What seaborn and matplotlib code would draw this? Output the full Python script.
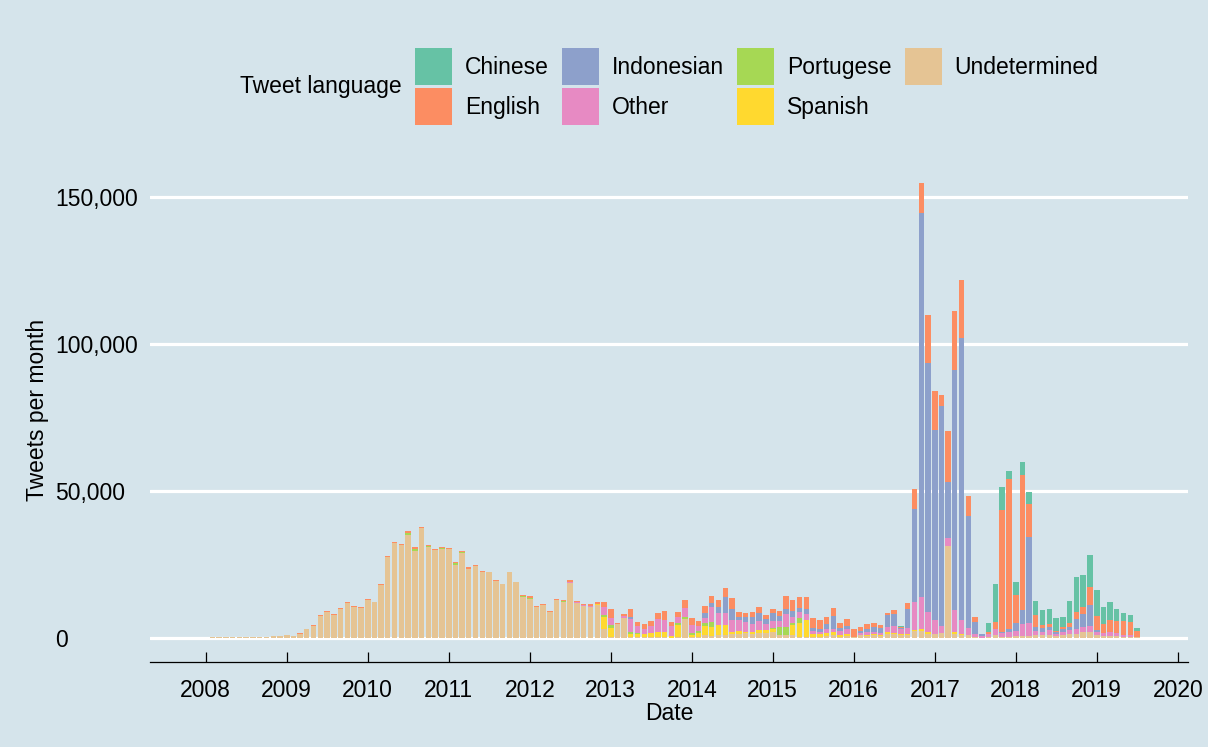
import numpy as np
import pandas as pd
import matplotlib
matplotlib.use("Agg")
import matplotlib.pyplot as plt
from matplotlib.patches import Patch
from matplotlib.ticker import FuncFormatter, FixedLocator
import seaborn as sns

# ---------------- data (tweets per month, Feb 2008 .. Jul 2019) ----------------
languages = ["Chinese", "English", "Indonesian", "Other", "Portugese", "Spanish", "Undetermined"]
colors = ["#66c2a5", "#fc8d62", "#8da0cb", "#e78ac3", "#a6d854", "#ffd92f", "#e5c494"]
months = pd.date_range("2008-02-01", periods=138, freq="MS")
year_ticks = list(range(2008, 2021))
y_ticks = [0, 50000, 100000, 150000]

undetermined = [
    300, 300, 300, 300, 350, 400, 400, 600, 600, 800, 900,
    1200, 900, 1600, 3050, 4300, 7600, 9000, 8000, 9800, 12000, 10800, 10200,
    12900, 12200, 18100, 27700, 32400, 31700, 35100, 29800, 37500, 31000, 30100, 30500,
    30300, 25000, 29100, 23600, 24500, 22700, 22400, 19500, 18300, 22400, 19000, 14100,
    13500, 10700, 11300, 9000, 13100, 12400, 18700, 12000, 10900, 10600, 11400, 3200,
    600, 4700, 6800, 600, 600, 600, 500, 600, 500, 200, 500, 6500,
    300, 300, 1100, 800, 1100, 1100, 1300, 1600, 1700, 1600, 1700, 1800,
    2000, 1100, 1200, 1000, 600, 400, 600, 500, 800, 1200, 600, 900,
    600, 1100, 900, 1000, 900, 1600, 1300, 1000, 1200, 2500, 2500, 1500,
    1300, 1700, 31500, 1500, 1100, 1100, 500, 200, 400, 1200, 600, 600,
    800, 800, 800, 1100, 1200, 1200, 700, 1200, 1400, 1500, 2200, 2000,
    1100, 800, 900, 800, 500, 500, 300,
]
english = [
    0, 0, 0, 0, 0, 0, 0, 0, 0, 0, 0,
    0, 0, 100, 150, 200, 400, 400, 300, 400, 400, 300, 300,
    400, 300, 400, 400, 400, 400, 600, 600, 500, 400, 300, 300,
    300, 600, 300, 500, 300, 300, 300, 300, 300, 300, 300, 300,
    600, 300, 400, 300, 300, 400, 500, 500, 500, 400, 500, 1900,
    3200, 600, 600, 2800, 1500, 1800, 1800, 2000, 3100, 1500, 1700, 2800,
    2300, 1700, 2300, 2500, 2300, 3100, 4000, 1900, 1100, 1500, 2000, 1400,
    1400, 1700, 4500, 3600, 4000, 4100, 3500, 3200, 2500, 2600, 1700, 2300,
    2500, 1400, 1700, 1400, 1100, 800, 1300, 300, 1900, 7000, 10200, 16200,
    13200, 3700, 17200, 19800, 19800, 6800, 1700, 0, 500, 2300, 41400, 51000,
    9600, 45900, 11200, 4200, 1100, 1100, 500, 700, 1400, 2200, 2300, 6000,
    4900, 3200, 4300, 4300, 4900, 4500, 2200,
]
indonesian = [
    0, 0, 0, 0, 0, 0, 0, 0, 0, 0, 0,
    0, 0, 0, 0, 0, 0, 0, 0, 0, 0, 0, 0,
    0, 0, 0, 0, 0, 0, 0, 0, 0, 0, 0, 0,
    0, 0, 0, 0, 0, 0, 0, 0, 0, 0, 0, 0,
    0, 0, 0, 0, 0, 0, 0, 0, 0, 0, 0, 0,
    0, 0, 0, 600, 0, 0, 0, 0, 0, 0, 0, 0,
    0, 0, 1700, 1400, 2000, 5400, 3600, 1100, 2000, 2300, 2500, 1400,
    2700, 1600, 1600, 2300, 1100, 1400, 800, 800, 1800, 4500, 800, 1100,
    0, 700, 1100, 1500, 1500, 4000, 4200, 400, 6500, 31500, 130700, 84700,
    64900, 74800, 19300, 81900, 96000, 38300, 4100, 600, 0, 0, 600, 1200,
    2500, 4800, 29300, 1100, 1100, 1100, 500, 800, 900, 3400, 4300, 7100,
    500, 0, 0, 0, 0, 0, 0,
]
other = [
    0, 0, 0, 0, 0, 0, 0, 0, 0, 0, 0,
    0, 0, 0, 0, 0, 0, 0, 0, 0, 0, 0, 0,
    0, 0, 0, 0, 0, 0, 0, 0, 0, 0, 0, 0,
    0, 0, 0, 0, 0, 0, 0, 0, 0, 0, 0, 0,
    0, 0, 0, 0, 0, 0, 600, 300, 300, 300, 200, 2600,
    2300, 0, 800, 4500, 2500, 1700, 2300, 4200, 4000, 3400, 2000, 2800,
    2800, 1600, 1700, 4900, 4200, 4000, 4000, 3700, 3100, 2800, 3200, 2300,
    2600, 2300, 4300, 1800, 2300, 2300, 1100, 800, 1400, 800, 1500, 1600,
    0, 800, 800, 900, 800, 1700, 2200, 1500, 2000, 9600, 10800, 6800,
    4500, 2500, 2500, 7400, 4900, 2300, 800, 500, 1200, 2000, 1100, 1400,
    1800, 4100, 4300, 1500, 1100, 1500, 900, 1100, 1400, 1700, 1700, 1900,
    1200, 900, 1100, 900, 600, 600, 0,
]
portugese = [
    0, 0, 0, 0, 0, 0, 0, 0, 0, 0, 0,
    0, 0, 0, 0, 0, 0, 0, 0, 0, 0, 0, 0,
    0, 0, 0, 0, 0, 0, 800, 600, 0, 300, 0, 200,
    0, 500, 200, 0, 0, 0, 0, 0, 0, 0, 0, 300,
    300, 0, 0, 0, 0, 200, 0, 0, 0, 200, 0, 600,
    1100, 0, 0, 600, 300, 0, 0, 0, 0, 0, 600, 900,
    600, 900, 1100, 1700, 0, 0, 0, 0, 0, 0, 0, 0,
    300, 2600, 2800, 900, 1700, 0, 0, 0, 0, 0, 0, 0,
    0, 0, 0, 0, 0, 0, 0, 0, 0, 0, 0, 0,
    0, 0, 0, 0, 0, 0, 0, 0, 0, 0, 0, 0,
    0, 0, 0, 0, 0, 0, 0, 0, 0, 0, 0, 0,
    0, 0, 0, 0, 0, 0, 0,
]
spanish = [
    0, 0, 0, 0, 0, 0, 0, 0, 0, 0, 0,
    0, 0, 0, 0, 0, 0, 0, 0, 0, 0, 0, 0,
    0, 0, 0, 0, 0, 0, 0, 0, 0, 0, 0, 0,
    0, 0, 0, 0, 0, 0, 0, 0, 0, 0, 0, 0,
    0, 0, 0, 0, 0, 0, 0, 0, 0, 0, 200, 4200,
    2800, 0, 0, 800, 800, 800, 1400, 1700, 1700, 600, 4000, 0,
    800, 1400, 3100, 3100, 3400, 3400, 900, 800, 600, 600, 1100, 900,
    1100, 0, 0, 3400, 4500, 5700, 900, 900, 900, 1100, 500, 600,
    0, 0, 300, 300, 200, 600, 600, 500, 300, 300, 600, 800,
    300, 0, 0, 600, 200, 0, 0, 0, 0, 0, 0, 0,
    0, 0, 0, 0, 0, 0, 0, 0, 0, 0, 0, 300,
    0, 0, 0, 0, 0, 0, 0,
]
chinese = [
    0, 0, 0, 0, 0, 0, 0, 0, 0, 0, 0,
    0, 0, 0, 0, 0, 0, 0, 0, 0, 0, 0, 0,
    0, 0, 0, 0, 0, 0, 0, 0, 0, 0, 0, 0,
    0, 0, 0, 0, 0, 0, 0, 0, 0, 0, 0, 0,
    0, 0, 0, 0, 0, 0, 0, 0, 0, 0, 0, 0,
    0, 0, 0, 0, 0, 0, 0, 0, 0, 0, 0, 0,
    0, 0, 0, 0, 0, 0, 0, 0, 0, 0, 0, 0,
    0, 0, 0, 0, 0, 0, 0, 0, 0, 0, 0, 0,
    0, 0, 0, 0, 0, 0, 0, 500, 0, 0, 0, 0,
    0, 0, 0, 300, 0, 0, 0, 0, 3000, 13000, 7900, 2800,
    4300, 4500, 4000, 4800, 5100, 5100, 4400, 3600, 7600, 12000, 11000, 11000,
    8700, 5900, 6200, 4000, 2500, 2200, 900,
]

series = {
    "Chinese": chinese, "English": english, "Indonesian": indonesian, "Other": other,
    "Portugese": portugese, "Spanish": spanish, "Undetermined": undetermined,
}

# decimal-year position of each month
pos = np.asarray(months.year + (months.dayofyear - 1) / np.where(months.is_leap_year, 366, 365), dtype=float)
frames = [pd.DataFrame({"year": pos, "tweets": vals, "language": lang}) for lang, vals in series.items()]
df = pd.concat(frames, ignore_index=True)

# month bins centred on each month position
half = 1 / 24
edges = [float(p - half) for p in pos] + [float(pos[-1] + half)]

# ---------------- style ----------------
bg = "#d5e4eb"
FS = 16.5
sns.set_theme(style="white")
plt.rcParams["font.family"] = ["Liberation Sans", "DejaVu Sans"]
plt.rcParams["text.color"] = "black"
plt.rcParams["axes.labelcolor"] = "black"
plt.rcParams["xtick.color"] = "black"
plt.rcParams["ytick.color"] = "black"

W, H = 1208, 747
fig = plt.figure(figsize=(W / 100, H / 100), dpi=100, facecolor=bg)
ax = fig.add_axes([150 / W, 1 - 662 / H, 1038 / W, 504 / H])
ax.set_facecolor(bg)

palette = dict(zip(languages, colors))
# seaborn puts the first hue level on top of the stack
sns.histplot(
    data=df, x="year", weights="tweets", hue="language",
    hue_order=languages, palette=palette, multiple="stack",
    bins=edges, shrink=0.82, edgecolor="none", linewidth=0, alpha=1,
    legend=False, ax=ax,
)

ax.set_xlim(2007.311, 2020.126)
ax.set_ylim(-8070, 163400)

ax.set_axisbelow(True)
ax.yaxis.grid(True, color="white", linewidth=2.3)
ax.xaxis.grid(False)

for s in ["top", "right", "left"]:
    ax.spines[s].set_visible(False)
ax.spines["bottom"].set_color("black")
ax.spines["bottom"].set_linewidth(0.9)

ax.xaxis.set_major_locator(FixedLocator(year_ticks))
ax.set_xticklabels([str(y) for y in year_ticks])
ax.tick_params(axis="x", bottom=True, direction="in", length=7.5, width=0.9,
               color="black", pad=12, labelsize=FS)

ax.yaxis.set_major_locator(FixedLocator(y_ticks))
ax.yaxis.set_major_formatter(FuncFormatter(lambda v, p: f"{v:,.0f}"))
ax.tick_params(axis="y", left=False, length=0, pad=68.5, labelsize=FS)
for lbl in ax.get_yticklabels():
    lbl.set_horizontalalignment("left")

ax.set_xlabel("Date", fontsize=FS)
ax.xaxis.set_label_coords(0.5, (662 - 702) / 504)
ax.set_ylabel("Tweets per month", fontsize=FS)
ax.yaxis.set_label_coords((49 - 150) / 1038, 0.5)

# legend
handles = [Patch(facecolor=c, edgecolor="none", label=l) for l, c in zip(languages, colors)]
fig.legend(handles=handles, loc="upper left", bbox_to_anchor=(415 / W, 1 - 48 / H),
           ncol=4, frameon=False, fontsize=FS, handlelength=1.62, handleheight=2.12,
           handletextpad=0.55, columnspacing=0.58, labelspacing=0.12,
           borderpad=0, borderaxespad=0)
fig.text(240 / W, 1 - 87 / H, "Tweet language", ha="left", va="center", fontsize=FS)

fig.savefig("out.png", dpi=100, facecolor=bg)
